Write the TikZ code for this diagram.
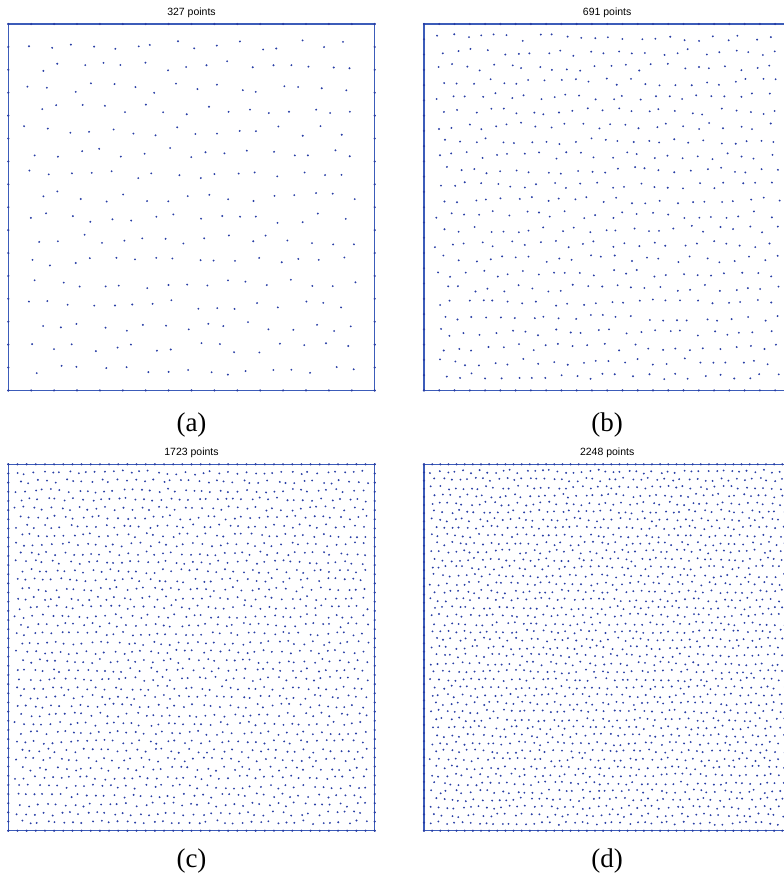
\documentclass[tikz,border=0pt]{standalone}
\usepackage{fontspec}
\setmainfont{Liberation Serif}
\setsansfont{Liberation Sans}
\usepackage{xcolor}
\usetikzlibrary{positioning, calc}

\definecolor{meshblue}{RGB}{40,62,165}
\definecolor{edgeblue}{RGB}{60,92,185}

% one square of points: left, top, number of boundary intervals
\newcommand{\pointpanel}[3]{%
  \pgfmathsetmacro{\hstep}{366.4/#3}
  \pgfmathsetmacro{\istep}{(366.4-1.8*\hstep)/(#3-1)}
  \pgfmathsetmacro{\xstep}{(366.4-1.8*\hstep)/(#3-0.5)}
  \draw[frame] (#1,#2) rectangle ++(366.4,366.4);
  % boundary points
  \foreach \k in {0,...,#3}{
    \fill[bnd] ({#1+\k*\hstep},#2) circle (1.2pt);
    \fill[bnd] ({#1+\k*\hstep},{#2+366.4}) circle (1.2pt);
    \fill[bnd] (#1,{#2+\k*\hstep}) circle (1.2pt);
    \fill[bnd] ({#1+366.4},{#2+\k*\hstep}) circle (1.2pt);
  }
  % interior points (staggered rows, jittered)
  \foreach \i in {0,...,\numexpr#3-1\relax}{
    \foreach \j in {0,...,\numexpr#3-1\relax}{
      \fill[pt] ({#1+0.9*\hstep+(\i+0.5*mod(\j,2)+0.24*rand)*\xstep},{#2+0.9*\hstep+(\j+0.24*rand)*\istep}) circle (1.05pt);
    }
  }
}

\begin{document}
\begin{tikzpicture}[
    x=1pt, y=-1pt,
    frame/.style={draw=edgeblue, line width=1.4pt},
    bnd/.style={fill=meshblue},
    pt/.style={fill=meshblue},
    title/.style={font=\sffamily\fontsize{10.5}{12}\selectfont, inner sep=0pt},
    sublabel/.style={font=\fontsize{27}{30}\selectfont, inner sep=0pt}
    ]
    \useasboundingbox (0,0) rectangle (784,879);
    \clip (0,0) rectangle (784,879);
    \pgfmathsetseed{4711}

    % --- top row ---
    \pointpanel{8.3}{24}{16}
    \pointpanel{424}{24}{24}
    \node[title] (titleA) at (191.5,12.6) {327 points};
    \node[title] (titleB) at (607.2,12.6) {691 points};
    \node[sublabel] (labA) at (191.5,425) {(a)};
    \node[sublabel] (labB) at (607.2,425) {(b)};

    % --- bottom row ---
    \pointpanel{8.3}{464.3}{40}
    \pointpanel{424}{464.3}{45}
    \node[title] (titleC) at (191.5,452.9) {1723 points};
    \node[title] (titleD) at (607.2,452.9) {2248 points};
    \node[sublabel] (labC) at (191.5,861) {(c)};
    \node[sublabel] (labD) at (607.2,861) {(d)};
\end{tikzpicture}
\end{document}
